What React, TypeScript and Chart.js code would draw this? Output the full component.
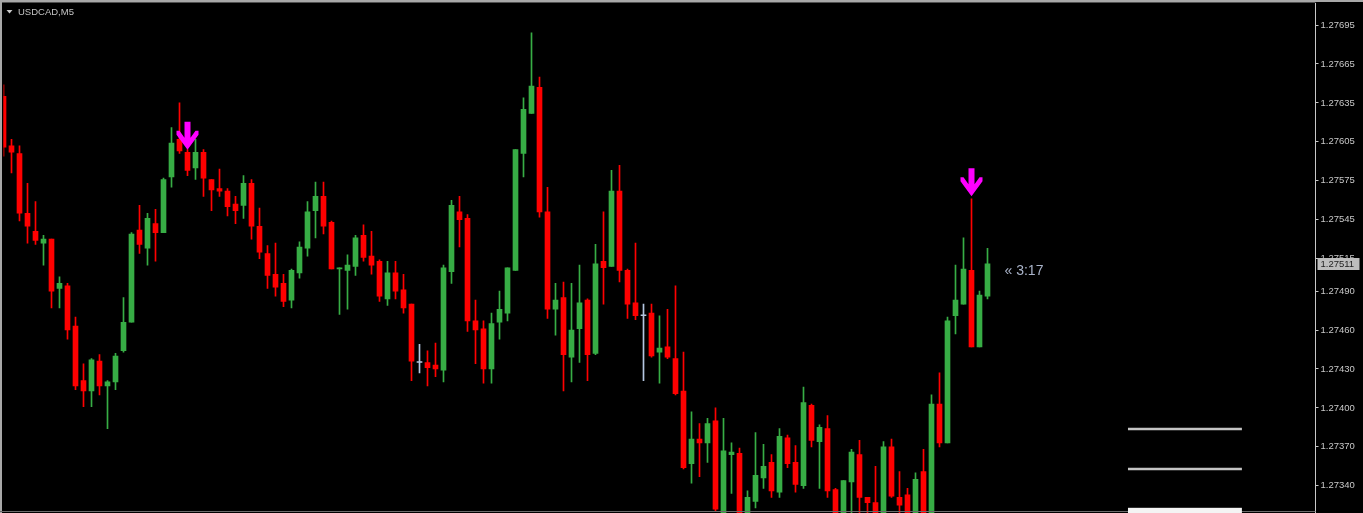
import { useEffect, useRef } from "react";
import { Chart, registerables } from "chart.js";

Chart.register(...registerables);

const SYMBOL_TITLE = "USDCAD,M5";
const TIMER_TEXT = "« 3:17";

const OPEN = [
  1.2764, 1.27602, 1.27596, 1.2755, 1.27536, 1.27527, 1.2753, 1.27492, 1.27494, 1.27463,
  1.27421, 1.27413, 1.27436, 1.27417, 1.2742, 1.27444, 1.27466, 1.27537, 1.27523, 1.27542,
  1.27535, 1.27578, 1.27607, 1.27597, 1.27585, 1.27597, 1.27576, 1.27569, 1.27567, 1.27557,
  1.27556, 1.27573, 1.2754, 1.27519, 1.27503, 1.27496, 1.27483, 1.27504, 1.27523, 1.27552,
  1.27563, 1.27543, 1.27507, 1.27506, 1.27509, 1.27533, 1.27517, 1.27513, 1.27484, 1.27504,
  1.27491, 1.2748, 1.27435, 1.27435, 1.27433, 1.27429, 1.27505, 1.27551, 1.27546, 1.27467,
  1.27461, 1.2743, 1.27466, 1.27473, 1.27506, 1.27596, 1.27627, 1.27647, 1.27551, 1.27476,
  1.27485, 1.27439, 1.27461, 1.27483, 1.27442, 1.27513, 1.27509, 1.27567, 1.27506, 1.27481,
  1.27471, 1.27473, 1.27443, 1.27447, 1.27438, 1.27413, 1.27357, 1.27376, 1.27373, 1.2739,
  1.27314, 1.27364, 1.27365, 1.27315, 1.27328, 1.27346, 1.27358, 1.27335, 1.27377, 1.27358,
  1.2734, 1.27402, 1.27374, 1.27384, 1.27337, 1.27315, 1.27343, 1.27364, 1.27331, 1.27327,
  1.27315, 1.2737, 1.27331, 1.27333, 1.27315, 1.27351, 1.27315, 1.27403, 1.27373, 1.27471,
  1.2748, 1.27506, 1.27447, 1.27486,
];
const HIGH = [
  1.27649, 1.27607, 1.27602, 1.27573, 1.27559, 1.27533, 1.2753, 1.27501, 1.27496, 1.2747,
  1.27434, 1.27438, 1.27441, 1.27421, 1.27442, 1.27485, 1.27535, 1.27556, 1.2755, 1.27553,
  1.27577, 1.27616, 1.27635, 1.27599, 1.27607, 1.27599, 1.27576, 1.27584, 1.27569, 1.27563,
  1.27579, 1.27576, 1.27554, 1.27525, 1.27527, 1.27503, 1.27507, 1.27528, 1.27559, 1.27574,
  1.27574, 1.27544, 1.27508, 1.27518, 1.27533, 1.27541, 1.27536, 1.27514, 1.27513, 1.27513,
  1.27503, 1.2748, 1.27449, 1.27444, 1.2745, 1.2751, 1.2756, 1.27563, 1.27549, 1.27483,
  1.27467, 1.27473, 1.2749, 1.27508, 1.27599, 1.27639, 1.27689, 1.27655, 1.2757, 1.27496,
  1.27497, 1.27496, 1.2751, 1.27484, 1.27526, 1.27551, 1.27583, 1.27587, 1.27507, 1.27527,
  1.2748, 1.2748, 1.27471, 1.27476, 1.27494, 1.27443, 1.27397, 1.27388, 1.27392, 1.274,
  1.27392, 1.27373, 1.27369, 1.27336, 1.27381, 1.27372, 1.27364, 1.27384, 1.27379, 1.27371,
  1.27416, 1.27403, 1.27387, 1.27394, 1.27338, 1.27344, 1.27368, 1.27375, 1.27331, 1.27355,
  1.27374, 1.27376, 1.27351, 1.27338, 1.2735, 1.27368, 1.2741, 1.27427, 1.2747, 1.2751,
  1.27531, 1.27561, 1.2749, 1.27523,
];
const LOW = [
  1.27594, 1.27581, 1.27544, 1.27527, 1.27526, 1.2751, 1.27477, 1.27477, 1.27453, 1.27414,
  1.27401, 1.27401, 1.2741, 1.27384, 1.27414, 1.27443, 1.27466, 1.27519, 1.2751, 1.27513,
  1.27535, 1.2757, 1.27596, 1.27579, 1.27576, 1.27563, 1.27552, 1.27563, 1.27548, 1.27542,
  1.27546, 1.2753, 1.27515, 1.27492, 1.27486, 1.27478, 1.27477, 1.275, 1.27517, 1.27531,
  1.27534, 1.27507, 1.27472, 1.27476, 1.27502, 1.27513, 1.27503, 1.27482, 1.27479, 1.27484,
  1.27473, 1.27421, 1.27427, 1.27417, 1.27424, 1.2742, 1.27496, 1.27524, 1.27459, 1.27434,
  1.27419, 1.27419, 1.27453, 1.27467, 1.27506, 1.27578, 1.27627, 1.27547, 1.27469, 1.27456,
  1.27413, 1.2742, 1.27435, 1.27421, 1.27441, 1.2748, 1.27509, 1.27497, 1.27469, 1.27468,
  1.27421, 1.27439, 1.27419, 1.27438, 1.2741, 1.27353, 1.27342, 1.27347, 1.27358, 1.2732,
  1.2731, 1.27334, 1.2731, 1.27312, 1.27323, 1.27338, 1.27331, 1.27331, 1.27354, 1.27335,
  1.27338, 1.2737, 1.27338, 1.27331, 1.27312, 1.27312, 1.27314, 1.27314, 1.27315, 1.27312,
  1.27312, 1.27331, 1.27315, 1.27312, 1.27312, 1.27312, 1.27312, 1.2737, 1.27373, 1.27457,
  1.2748, 1.27447, 1.27447, 1.27484,
];
const CLOSE = [
  1.27601, 1.27597, 1.2755, 1.2754, 1.27529, 1.2753, 1.2749, 1.27496, 1.2746, 1.27417,
  1.27413, 1.27437, 1.27417, 1.2742, 1.2744, 1.27466, 1.27534, 1.27526, 1.27546, 1.27535,
  1.27576, 1.27604, 1.27598, 1.27583, 1.27597, 1.27577, 1.27568, 1.27567, 1.27555, 1.27552,
  1.27573, 1.2754, 1.2752, 1.27502, 1.27493, 1.27482, 1.27506, 1.27524, 1.27551, 1.27563,
  1.2754, 1.27507, 1.27508, 1.2751, 1.27531, 1.27516, 1.2751, 1.27486, 1.27504, 1.2749,
  1.27477, 1.27436, 1.27435, 1.27431, 1.2743, 1.27508, 1.27556, 1.27545, 1.27467, 1.2746,
  1.2743, 1.27465, 1.27476, 1.27508, 1.27599, 1.2763, 1.27648, 1.27551, 1.27476, 1.27483,
  1.27441, 1.2746, 1.27481, 1.27441, 1.27511, 1.27508, 1.27567, 1.27506, 1.2748, 1.27471,
  1.27471, 1.2744, 1.27446, 1.27439, 1.27411, 1.27354, 1.27376, 1.27373, 1.27388, 1.27322,
  1.27367, 1.27366, 1.27314, 1.27331, 1.27348, 1.27355, 1.27336, 1.27378, 1.27357, 1.27341,
  1.27404, 1.27375, 1.27385, 1.27336, 1.27315, 1.27344, 1.27366, 1.27331, 1.27327, 1.27315,
  1.2737, 1.27332, 1.27325, 1.27315, 1.27345, 1.27315, 1.27403, 1.27373, 1.27467, 1.27483,
  1.27507, 1.27447, 1.27487, 1.27511,
];

const SLOT_COUNT = 165;
const Y_TICKS = [
  1.2734, 1.2737, 1.274, 1.2743, 1.2746, 1.2749, 1.27515, 1.27545, 1.27575, 1.27605,
  1.27635, 1.27665, 1.27695,
];
const Y_MIN = 1.27319;
const Y_MAX = 1.27712;

const SIGNAL_INDEX = [23, 121];
const SIGNAL_PRICE = [1.27599, 1.27563];

const LEVEL_PRICES = [1.27384, 1.27353];
const LEVEL_FROM = 140.56;
const LEVEL_TO = 154.8;
const PANEL_TOP_PRICE = 1.27323;

const UP_COLOR = "#37ad45";
const DOWN_COLOR = "#ff0000";
const DOJI_COLOR = "#b4c6e0";
const AXIS_COLOR = "#c8c8c8";

function candleColors(): string[] {
  return OPEN.map((o, i) => (CLOSE[i] > o ? UP_COLOR : CLOSE[i] < o ? DOWN_COLOR : DOJI_COLOR));
}

const mtPlugin = {
  id: "mtDecor",
  beforeDraw(chart: any) {
    const { ctx, width, height } = chart;
    ctx.save();
    ctx.fillStyle = "#000000";
    ctx.fillRect(0, 0, width, height);
    ctx.restore();
  },
  afterDatasetsDraw(chart: any) {
    const { ctx, scales } = chart;
    const xs = scales.x;
    const ys = scales.y;
    ctx.save();
    // signal arrows
    ctx.fillStyle = "#ff00ff";
    SIGNAL_INDEX.forEach((idx, i) => {
      const cx = xs.getPixelForValue(idx);
      const ty = ys.getPixelForValue(SIGNAL_PRICE[i]);
      const pts = [
        [-3, -28], [3, -28], [3, -12], [8, -19], [11, -19], [11, -15], [0, 0],
        [-11, -15], [-11, -19], [-8, -19], [-3, -12],
      ];
      ctx.beginPath();
      pts.forEach(([dx, dy], j) => {
        if (j === 0) ctx.moveTo(cx + dx, ty + dy);
        else ctx.lineTo(cx + dx, ty + dy);
      });
      ctx.closePath();
      ctx.fill();
    });
    // timer text next to last candle
    const last = CLOSE.length - 1;
    const lx = xs.getPixelForValue(last);
    const ly = ys.getPixelForValue(CLOSE[last]);
    ctx.fillStyle = "#a9b3c9";
    ctx.font = "14px 'Liberation Sans', Arial, sans-serif";
    ctx.textBaseline = "middle";
    ctx.textAlign = "left";
    ctx.fillText(TIMER_TEXT, lx + 17, ly + 7);
    ctx.restore();
  },
  afterDraw(chart: any) {
    const { ctx, scales, chartArea, width } = chart;
    const xs = scales.x;
    const ys = scales.y;
    ctx.save();
    // current price label
    const last = CLOSE.length - 1;
    const cy = Math.round(ys.getPixelForValue(CLOSE[last]));
    ctx.fillStyle = "#bdbdbd";
    ctx.fillRect(chartArea.right + 2, cy - 6, 42, 12);
    ctx.fillStyle = "#1e1e1e";
    ctx.font = "9.5px 'Liberation Sans', Arial, sans-serif";
    ctx.textBaseline = "middle";
    ctx.textAlign = "left";
    ctx.fillText(CLOSE[last].toFixed(5), chartArea.right + 5, cy);
    // title
    ctx.fillStyle = "#c8c8c8";
    ctx.beginPath();
    ctx.moveTo(6.5, 10);
    ctx.lineTo(12.5, 10);
    ctx.lineTo(9.5, 13.5);
    ctx.closePath();
    ctx.fill();
    ctx.fillStyle = "#c4c4c4";
    ctx.textBaseline = "alphabetic";
    ctx.fillText(SYMBOL_TITLE, 18, 15);
    // frame
    ctx.fillStyle = "#a8a8a8";
    ctx.fillRect(0, 0, width, 2);
    ctx.fillRect(0, 0, 2, chart.height);
    ctx.fillStyle = "#505050";
    ctx.fillRect(2, 2, chartArea.right - 2, 1);
    ctx.fillStyle = "#6a6a6a";
    ctx.fillRect(0, 511, chartArea.right, 1);
    // horizontal objects lower right
    const x1 = xs.getPixelForValue(LEVEL_FROM);
    const x2 = xs.getPixelForValue(LEVEL_TO);
    ctx.strokeStyle = "#c4c4c4";
    ctx.lineWidth = 2.5;
    LEVEL_PRICES.forEach((p) => {
      const y = Math.round(ys.getPixelForValue(p));
      ctx.beginPath();
      ctx.moveTo(x1, y);
      ctx.lineTo(x2, y);
      ctx.stroke();
    });
    const py = ys.getPixelForValue(PANEL_TOP_PRICE);
    ctx.fillStyle = "#f4f4f4";
    ctx.fillRect(x1, py, x2 - x1, chartArea.bottom - py);
    ctx.restore();
  },
};

export default function App() {
  const canvasRef = useRef<HTMLCanvasElement | null>(null);

  useEffect(() => {
    document.body.style.margin = "0";
    document.body.style.overflow = "hidden";
    document.body.style.background = "#000";
    const canvas = canvasRef.current;
    if (!canvas) return;
    const colors = candleColors();
    const labels = Array.from({ length: SLOT_COUNT }, (_, i) => String(i));
    const chart = new Chart(canvas, {
      type: "bar",
      data: {
        labels,
        datasets: [
          {
            label: "body",
            data: OPEN.map((o, i) => [o, CLOSE[i]]) as any,
            backgroundColor: colors,
            borderWidth: 0,
            barThickness: 5,
            minBarLength: 1,
            grouped: false,
            order: 0,
          },
          {
            label: "wick",
            data: LOW.map((l, i) => [l, HIGH[i]]) as any,
            backgroundColor: colors,
            borderWidth: 0,
            barThickness: 1,
            grouped: false,
            order: 1,
          },
        ],
      },
      options: {
        animation: false,
        responsive: false,
        devicePixelRatio: 1,
        events: [],
        layout: { padding: { left: 3.5, top: 3, right: 0, bottom: 0 } },
        plugins: {
          legend: { display: false },
          tooltip: { enabled: false },
          title: { display: false },
        },
        scales: {
          x: {
            type: "category",
            display: false,
            offset: false,
            grid: { offset: false },
          },
          y: {
            type: "linear",
            position: "right",
            min: Y_MIN,
            max: Y_MAX,
            afterBuildTicks: (scale: any) => {
              scale.ticks = Y_TICKS.map((v) => ({ value: v }));
            },
            afterFit: (scale: any) => {
              scale.width = 47.5;
              scale.paddingTop = 0;
              scale.paddingBottom = 0;
            },
            ticks: {
              autoSkip: false,
              padding: 2,
              color: AXIS_COLOR,
              font: { family: "'Liberation Sans', Arial, sans-serif", size: 9.5 },
              callback: (v: any) => Number(v).toFixed(5),
            },
            grid: { drawOnChartArea: false, drawTicks: true, tickLength: 3, color: AXIS_COLOR },
            border: { display: true, color: AXIS_COLOR },
          },
        },
      } as any,
      plugins: [mtPlugin],
    });
    return () => chart.destroy();
  }, []);

  return (
    <canvas
      ref={canvasRef}
      width={1363}
      height={513}
      style={{ display: "block", width: 1363, height: 513 }}
    />
  );
}
